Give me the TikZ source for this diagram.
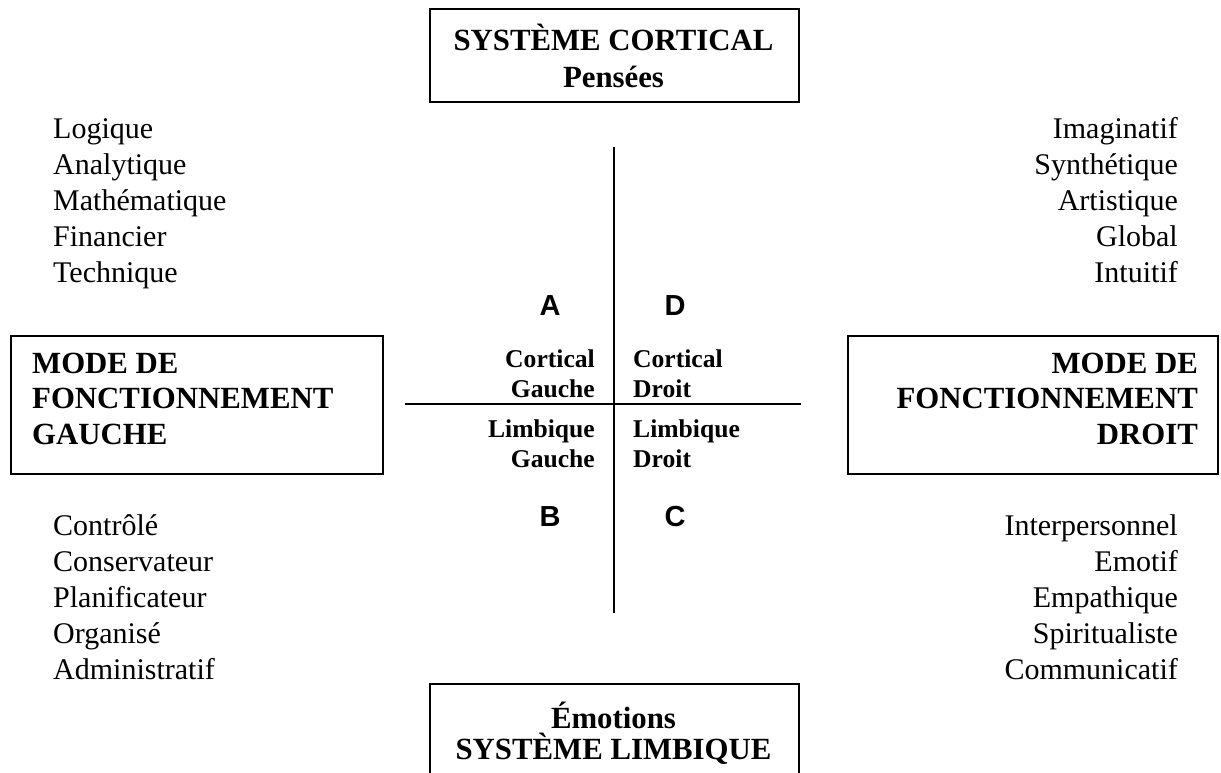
\documentclass[tikz,border=0pt]{standalone}
\usepackage{fontspec}
\setmainfont{Liberation Serif}
\newfontfamily\labsans{Liberation Sans}
\begin{document}
\begin{tikzpicture}[x=1pt,y=-1pt,
 box/.style={draw, line width=1.8pt, inner sep=0pt, anchor=north west},
 ttl/.style={font=\fontsize{30.8}{36}\selectfont\bfseries, inner sep=0pt},
 item/.style={font=\fontsize{30}{34}\selectfont, inner sep=0pt},
 quad/.style={font=\fontsize{25.6}{30}\selectfont\bfseries, inner sep=0pt},
 letter/.style={font=\labsans\fontsize{29}{34}\selectfont\bfseries, inner sep=0pt, anchor=base},
 axis/.style={line width=1.8pt}]
\useasboundingbox (0,0) rectangle (1221,772);
\clip (0,0) rectangle (1221,772);
% boxes
\node[box, minimum width=369pt, minimum height=93pt] (top) at (429,8) {};
\node[box, minimum width=369pt, minimum height=120pt] (bot) at (429,683) {};
\node[box, minimum width=372pt, minimum height=138pt] (left) at (10,335) {};
\node[box, minimum width=370pt, minimum height=138pt] (right) at (847,335) {};
% box texts
\node[ttl, anchor=base] (t1) at (613.5,50) {SYSTÈME CORTICAL};
\node[ttl, anchor=base] (t2) at (613.5,87) {Pensées};
\node[ttl, anchor=base] (b1) at (613.5,728) {Émotions};
\node[ttl, anchor=base] (b2) at (613.5,759) {SYSTÈME LIMBIQUE};
\node[ttl, anchor=base west] (l1) at (32,373) {MODE DE};
\node[ttl, anchor=base west] (l2) at (32,408) {FONCTIONNEMENT};
\node[ttl, anchor=base west] (l3) at (32,444) {GAUCHE};
\node[ttl, anchor=base east] (r1) at (1198,373) {MODE DE};
\node[ttl, anchor=base east] (r2) at (1198,408) {FONCTIONNEMENT};
\node[ttl, anchor=base east] (r3) at (1198,444) {DROIT};
% lists
\node[item, anchor=base west] (ul1) at (53,138) {Logique};
\node[item, anchor=base west] (ul2) at (53,174) {Analytique};
\node[item, anchor=base west] (ul3) at (53,210) {Mathématique};
\node[item, anchor=base west] (ul4) at (53,246) {Financier};
\node[item, anchor=base west] (ul5) at (53,282) {Technique};
\node[item, anchor=base east] (ur1) at (1178,138) {Imaginatif};
\node[item, anchor=base east] (ur2) at (1178,174) {Synthétique};
\node[item, anchor=base east] (ur3) at (1178,210) {Artistique};
\node[item, anchor=base east] (ur4) at (1178,246) {Global};
\node[item, anchor=base east] (ur5) at (1178,282) {Intuitif};
\node[item, anchor=base west] (dl1) at (53,535) {Contrôlé};
\node[item, anchor=base west] (dl2) at (53,571) {Conservateur};
\node[item, anchor=base west] (dl3) at (53,607) {Planificateur};
\node[item, anchor=base west] (dl4) at (53,643) {Organisé};
\node[item, anchor=base west] (dl5) at (53,679) {Administratif};
\node[item, anchor=base east] (dr1) at (1178,535) {Interpersonnel};
\node[item, anchor=base east] (dr2) at (1178,571) {Emotif};
\node[item, anchor=base east] (dr3) at (1178,607) {Empathique};
\node[item, anchor=base east] (dr4) at (1178,643) {Spiritualiste};
\node[item, anchor=base east] (dr5) at (1178,679) {Communicatif};
% quadrant labels
\node[quad, anchor=base east] (q1) at (595,367) {Cortical};
\node[quad, anchor=base east] (q2) at (595,397) {Gauche};
\node[quad, anchor=base east] (q3) at (595,437) {Limbique};
\node[quad, anchor=base east] (q4) at (595,467) {Gauche};
\node[quad, anchor=base west] (q5) at (633,367) {Cortical};
\node[quad, anchor=base west] (q6) at (633,397) {Droit};
\node[quad, anchor=base west] (q7) at (633,437) {Limbique};
\node[quad, anchor=base west] (q8) at (633,467) {Droit};
\node[letter] (A) at (550,315) {A};
\node[letter] (D) at (675,315) {D};
\node[letter] (B) at (550,526) {B};
\node[letter] (C) at (675,526) {C};
% axes
\coordinate (vtop) at (614,147);
\coordinate (vbot) at (614,613);
\coordinate (hl) at (405,404);
\coordinate (hr) at (801,404);
\draw[axis] (vtop) -- (vbot);
\draw[axis] (hl) -- (hr);
\end{tikzpicture}
\end{document}
